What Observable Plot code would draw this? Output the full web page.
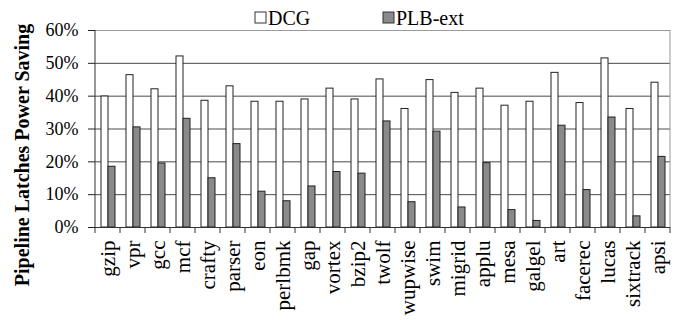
<!DOCTYPE html>
<html><head><meta charset="utf-8">
<script src="https://cdn.jsdelivr.net/npm/d3@7"></script>
<script src="https://cdn.jsdelivr.net/npm/@observablehq/plot@0.6"></script>
<style>body{margin:0;background:#fff;}</style>
</head><body><div id="chart"></div>
<script>
const benchmarks = ["gzip","vpr","gcc","mcf","crafty","parser","eon","perlbmk","gap","vortex","bzip2","twolf","wupwise","swim","migrid","applu","mesa","galgel","art","facerec","lucas","sixtrack","apsi"];
const seriesNames = ["DCG","PLB-ext"];
const dcg =    [39.9,46.4,42.1,52.1,38.6,43.0,38.3,38.3,39.0,42.3,39.0,45.1,36.1,44.9,41.0,42.3,37.1,38.3,47.1,37.9,51.5,36.1,44.1];
const plbExt = [18.5,30.5,19.5,33.1,15.0,25.4,10.9,8.0,12.5,16.9,16.4,32.3,7.7,29.2,6.1,19.6,5.3,2.0,31.0,11.4,33.5,3.4,21.5];
const yTicks = [0,10,20,30,40,50,60];
const seriesColors = ["#ffffff","#8a8a8a"];
const yTitle = "Pipeline Latches Power Saving";
const FONT = "'Liberation Serif', 'Times New Roman', serif";

const data = benchmarks.flatMap((b,i)=>[
  {bench:b, series:seriesNames[0], value:dcg[i]},
  {bench:b, series:seriesNames[1], value:plbExt[i]}
]);

const plot = Plot.plot({
  width:678, height:320, marginLeft:92, marginRight:6, marginTop:30, marginBottom:93,
  style:{fontFamily:FONT, background:"#fff", color:"#222"},
  fx:{domain:benchmarks, padding:0, label:null},
  x:{domain:seriesNames, paddingInner:0, paddingOuter:0.75, axis:null},
  y:{domain:[0,60], label:null},
  color:{domain:seriesNames, range:seriesColors},
  marks:[
    Plot.ruleY(yTicks.filter(t=>t>0 && t<60), {stroke:"#4a4a4a"}),
    Plot.ruleY([60], {stroke:"#999"}),
    Plot.barY(data, {fx:"bench", x:"series", y:"value", fill:"series", stroke:"#222", strokeWidth:1}),
    Plot.ruleY([0], {stroke:"#333"}),
    Plot.axisY({ticks:yTicks, tickFormat:d=>d+"%", tickSize:7, tickPadding:10, fontSize:18, label:null}),
    Plot.axisFx({anchor:"bottom", tickRotate:-90, tickSize:0, tickPadding:13, fontSize:21, label:null})
  ]
});
document.getElementById("chart").appendChild(plot);

const svg = d3.select(plot);
const fx = plot.scale("fx");
const y = plot.scale("y");
const y0 = y.apply(0), y1 = y.apply(60);
const left = fx.apply(benchmarks[0]);
const right = fx.apply(benchmarks[benchmarks.length-1]) + fx.bandwidth;
const g = svg.append("g");
g.append("line").attr("x1",left).attr("x2",left).attr("y1",y1).attr("y2",y0).attr("stroke","#333");
g.append("line").attr("x1",right).attr("x2",right).attr("y1",y1).attr("y2",y0).attr("stroke","#999");
const bounds = benchmarks.map(b=>fx.apply(b)).concat([right]);
g.selectAll("line.bt").data(bounds).join("line").attr("class","bt")
  .attr("x1",d=>d).attr("x2",d=>d).attr("y1",y0).attr("y2",y0+6).attr("stroke","#333");

// y-axis title
svg.append("text")
  .attr("transform","translate(29,155) rotate(-90)")
  .style("font-size","20px").style("font-weight","bold")
  .style("text-anchor","middle").style("fill","#000")
  .text(yTitle);

// legend
const legendX = [255, 383];
seriesNames.forEach((s,i)=>{
  svg.append("rect").attr("x",legendX[i]).attr("y",12).attr("width",11).attr("height",11)
    .attr("fill",seriesColors[i]).attr("stroke","#333");
  svg.append("text").attr("x",legendX[i]+13).attr("y",25)
    .style("font-size","20px").style("text-anchor","start").style("fill","#000")
    .text(s);
});

svg.selectAll("text").style("font-family", FONT);
svg.selectAll("g[aria-label='y-axis tick label'] text, g[aria-label='fx-axis tick label'] text").style("fill","#000");
</script>
</body></html>
